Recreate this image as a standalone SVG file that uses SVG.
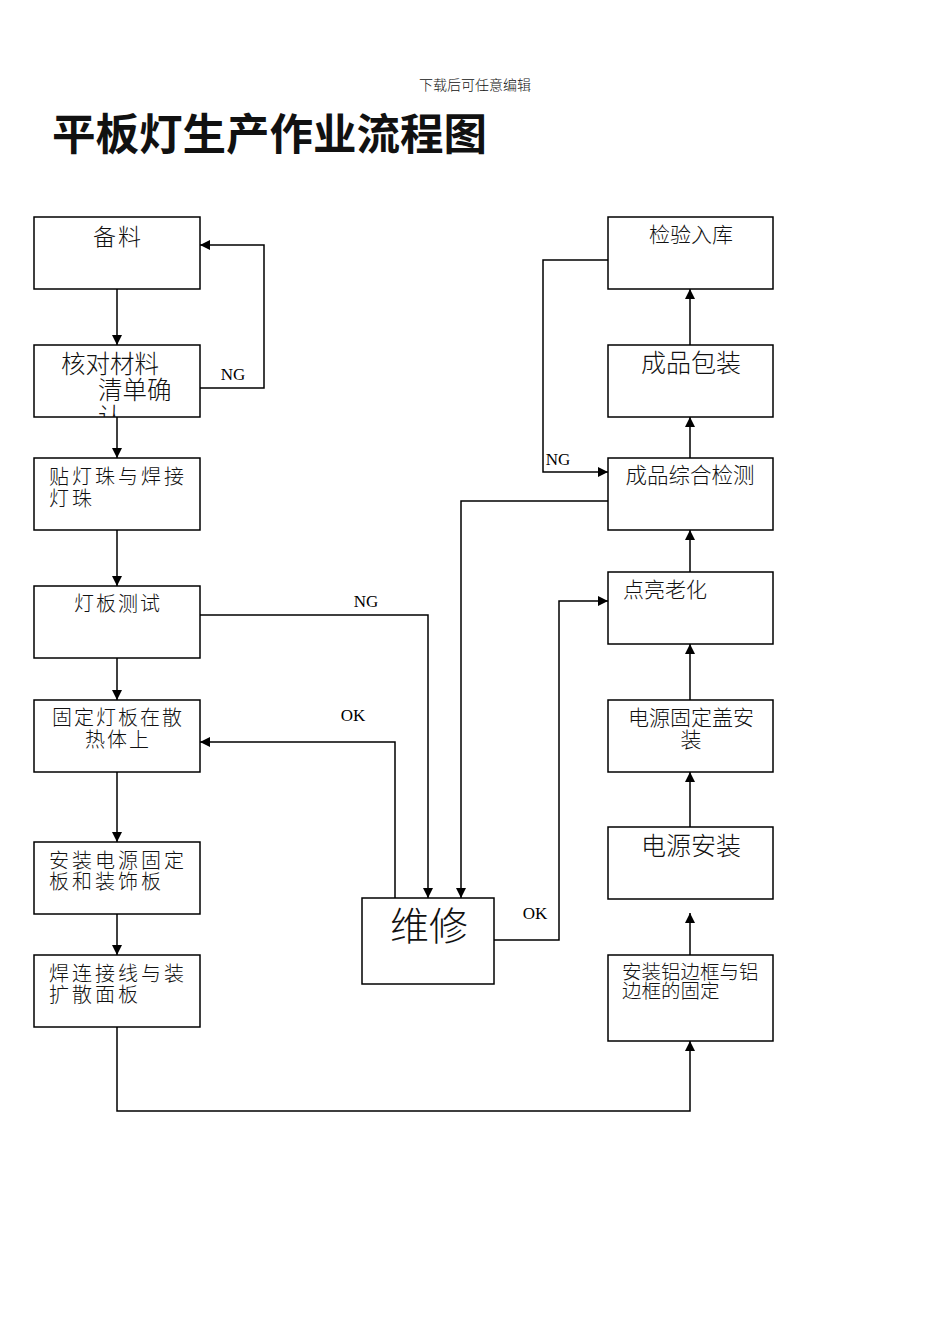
<svg xmlns="http://www.w3.org/2000/svg" width="950" height="1342" viewBox="0 0 950 1342">
<style>
.box{fill:#fff;stroke:#000;stroke-width:1.5}
.t{font-family:"Noto Sans CJK SC","Noto Sans CJK JP",sans-serif;font-weight:300;fill:#111}
.lbl{font-family:"Liberation Serif",serif;font-size:17px;fill:#000}
.ln{fill:none;stroke:#000;stroke-width:1.5}
</style>
<defs>
<marker id="ah" viewBox="0 0 10 10" refX="10" refY="5" markerWidth="10" markerHeight="10" markerUnits="userSpaceOnUse" orient="auto">
<path d="M0,0 L10,5 L0,10 Z" fill="#000"/>
</marker>
<clipPath id="clipHD"><rect x="34" y="345" width="166" height="72"/></clipPath>
</defs>
<rect width="950" height="1342" fill="#fff"/>
<text x="475" y="90" text-anchor="middle" class="t" font-size="14">下载后可任意编辑</text>
<text x="52" y="150" class="t" font-size="43.5" style="font-weight:700">平板灯生产作业流程图</text>

<g id="connectors">
<path class="ln" d="M117,289 V345" marker-end="url(#ah)"/>
<path class="ln" d="M200,388 H264 V245 H200" marker-end="url(#ah)"/>
<path class="ln" d="M117,417 V458" marker-end="url(#ah)"/>
<path class="ln" d="M117,530 V586" marker-end="url(#ah)"/>
<path class="ln" d="M117,658 V700" marker-end="url(#ah)"/>
<path class="ln" d="M117,772 V842" marker-end="url(#ah)"/>
<path class="ln" d="M117,914 V955" marker-end="url(#ah)"/>
<path class="ln" d="M117,1027 V1111 H690 V1041" marker-end="url(#ah)"/>
<path class="ln" d="M200,615 H428 V898" marker-end="url(#ah)"/>
<path class="ln" d="M395,898 V742 H200" marker-end="url(#ah)"/>
<path class="ln" d="M608,501 H461 V898" marker-end="url(#ah)"/>
<path class="ln" d="M494,940 H559 V601 H608" marker-end="url(#ah)"/>
<path class="ln" d="M608,260 H543 V472 H608" marker-end="url(#ah)"/>
<path class="ln" d="M690,955 V913" marker-end="url(#ah)"/>
<path class="ln" d="M690,827 V772" marker-end="url(#ah)"/>
<path class="ln" d="M690,700 V644" marker-end="url(#ah)"/>
<path class="ln" d="M690,572 V530" marker-end="url(#ah)"/>
<path class="ln" d="M690,458 V417" marker-end="url(#ah)"/>
<path class="ln" d="M690,345 V289" marker-end="url(#ah)"/>
<text x="233" y="380" text-anchor="middle" class="lbl">NG</text>
<text x="366" y="607" text-anchor="middle" class="lbl">NG</text>
<text x="353" y="721" text-anchor="middle" class="lbl">OK</text>
<text x="535" y="919" text-anchor="middle" class="lbl">OK</text>
<text x="558" y="465" text-anchor="middle" class="lbl">NG</text>
</g>

<g id="n_beiliao">
<rect class="box" x="34" y="217" width="166" height="72"/>
<text x="118" y="245" text-anchor="middle" class="t" font-size="23" letter-spacing="2">备料</text>
</g>
<g id="n_hedui">
<rect class="box" x="34" y="345" width="166" height="72"/>
<text class="t" font-size="24.5" clip-path="url(#clipHD)"><tspan x="61" y="373">核对材料</tspan><tspan x="98" y="399">清单确</tspan><tspan x="98" y="426">认</tspan></text>
</g>
<g id="n_tie">
<rect class="box" x="34" y="458" width="166" height="72"/>
<text class="t" font-size="20" letter-spacing="3"><tspan x="49" y="484">贴灯珠与焊接</tspan><tspan x="49" y="506">灯珠</tspan></text>
</g>
<g id="n_ceshi">
<rect class="box" x="34" y="586" width="166" height="72"/>
<text x="118" y="611" text-anchor="middle" class="t" font-size="20" letter-spacing="2">灯板测试</text>
</g>
<g id="n_guding">
<rect class="box" x="34" y="700" width="166" height="72"/>
<text text-anchor="middle" class="t" font-size="20" letter-spacing="2"><tspan x="118" y="725">固定灯板在散</tspan><tspan x="118" y="747">热体上</tspan></text>
</g>
<g id="n_anzhuang">
<rect class="box" x="34" y="842" width="166" height="72"/>
<text class="t" font-size="20" letter-spacing="3"><tspan x="49" y="868">安装电源固定</tspan><tspan x="49" y="889">板和装饰板</tspan></text>
</g>
<g id="n_hanlian">
<rect class="box" x="34" y="955" width="166" height="72"/>
<text class="t" font-size="20" letter-spacing="3"><tspan x="49" y="981">焊连接线与装</tspan><tspan x="49" y="1002">扩散面板</tspan></text>
</g>

<g id="n_jianyan">
<rect class="box" x="608" y="217" width="165" height="72"/>
<text x="691" y="242" text-anchor="middle" class="t" font-size="21">检验入库</text>
</g>
<g id="n_baozhuang">
<rect class="box" x="608" y="345" width="165" height="72"/>
<text x="691" y="372" text-anchor="middle" class="t" font-size="25">成品包装</text>
</g>
<g id="n_zonghe">
<rect class="box" x="608" y="458" width="165" height="72"/>
<text x="690" y="483" text-anchor="middle" class="t" font-size="21.5">成品综合检测</text>
</g>
<g id="n_laohua">
<rect class="box" x="608" y="572" width="165" height="72"/>
<text x="623" y="597" class="t" font-size="21">点亮老化</text>
</g>
<g id="n_gai">
<rect class="box" x="608" y="700" width="165" height="72"/>
<text text-anchor="middle" class="t" font-size="21"><tspan x="691" y="725">电源固定盖安</tspan><tspan x="691" y="747">装</tspan></text>
</g>
<g id="n_dianyuan">
<rect class="box" x="608" y="827" width="165" height="72"/>
<text x="691" y="855" text-anchor="middle" class="t" font-size="25">电源安装</text>
</g>
<g id="n_lvbiankuang">
<rect class="box" x="608" y="955" width="165" height="86"/>
<text class="t" font-size="19.5"><tspan x="622" y="979">安装铝边框与铝</tspan><tspan x="622" y="998">边框的固定</tspan></text>
</g>
<g id="n_weixiu">
<rect class="box" x="362" y="898" width="132" height="86"/>
<text x="429" y="940" text-anchor="middle" class="t" font-size="39">维修</text>
</g>
</svg>
